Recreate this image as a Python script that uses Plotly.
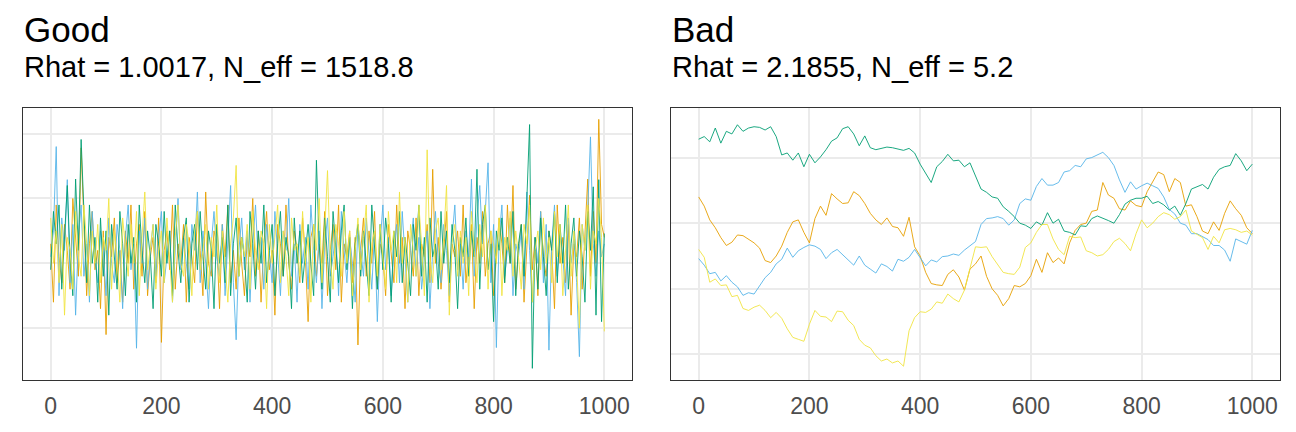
import plotly.graph_objects as go

# chain colours (Okabe-Ito)
chain_colors = ["#E69F00", "#56B4E9", "#009E73", "#F0E442"]

# ---- "Good" panel: draws read every 5 iterations ----
good_iter = list(range(0, 1001, 5))

good_chain1 = [
    0.3, -0.6, 0.9, 0.1, -0.3, 0.6, 0.2, -0.4, 1.0, 0.4,
    -0.2, 1.78, 0.5, -0.5, 0.3, 0.8, -0.1, 0.2, -0.7, 0.5,
    -1.10, 0.4, 0.1, 0.7, -0.3, 0.2, -0.6, 0.5, 0.0, 0.9,
    -0.4, 0.3, 0.6, -0.2, 0.8, -0.5, 0.1, 0.4, -0.3, 0.7,
    -1.22, 0.2, 0.5, -0.1, 0.9, -0.4, 0.3, 0.0, 0.6, -0.6,
    0.4, 0.1, -0.3, 0.8, 0.2, -0.5, 1.1, 0.0, -0.2, 0.5,
    0.3, -0.7, 0.6, 0.1, 0.9, -0.3, 0.2, -0.4, 0.7, 0.0,
    -0.5, 0.4, 0.1, 1.0, -0.2, 0.5, -0.6, 0.3, 0.8, -0.1,
    0.2, -0.8, 0.6, 0.3, -0.2, 0.9, 0.0, -0.4, 0.5, 0.2,
    -0.3, 0.7, 0.1, -0.9, 0.4, 0.6, -0.2, 0.3, 0.0, 0.8,
    -0.5, 0.2, 0.6, -0.1, 0.9, -0.6, 0.3, 0.1, 0.5, -0.3,
    0.4, -1.26, 0.2, 0.7, -0.2, 0.5, 0.0, 0.8, -0.4, 0.3,
    0.1, -0.5, 0.6, 0.2, -0.3, 0.9, 0.0, 0.4, -0.7, 0.5,
    0.2, -0.2, 0.7, -0.5, 0.3, 0.1, 0.6, -0.3, 1.45, 0.0,
    0.4, -0.4, 0.2, 0.8, -0.6, 0.3, 0.1, 0.5, -0.2, 0.9,
    -0.3, 0.2, 0.6, -0.7, 0.4, 0.0, 0.8, -0.2, 0.3, 0.5,
    -0.5, 0.1, 0.7, 0.3, -0.3, 0.9, 0.0, 1.2, -0.4, 0.2,
    0.6, -0.6, 0.3, 1.05, -0.1, 0.4, -0.5, 0.8, 0.1, -0.2,
    0.5, 0.2, -0.7, 0.9, 0.0, 0.4, -0.3, 0.6, -0.8, 0.3,
    0.1, 0.7, -0.4, 0.5, 1.3, -0.2, 0.8, 0.0, 2.22, 0.6,
    0.4,
]
good_chain2 = [
    0.1, 0.5, 1.80, -0.5, 0.7, 0.2, 1.29, -0.3, 0.6, -0.8,
    0.4, 0.9, -0.2, 0.3, -0.6, 0.8, 0.1, -0.3, 0.5, 0.2,
    -0.5, 0.7, 0.0, -0.3, 0.6, 0.2, -0.7, 0.4, 0.9, -0.1,
    0.3, -1.31, 0.5, 0.0, 0.7, -0.4, 0.2, 0.6, -0.2, 0.4,
    0.8, -0.3, 0.1, 0.5, -0.6, 0.3, 1.0, -0.1, 0.4, 0.0,
    -0.4, 0.6, 0.2, 1.1, -0.3, 0.5, 0.0, -0.7, 0.3, 0.8,
    0.1, -0.2, 0.6, -0.5, 0.4, 1.2, -0.3, -1.18, 0.2, 0.7,
    -0.1, 0.5, -0.6, 0.3, 0.9, 0.0, 0.4, -0.4, 0.6, 0.2,
    -0.3, 0.8, 0.1, -0.5, 0.5, 0.2, 1.0, -0.2, 0.3, -0.6,
    0.6, 0.0, 0.4, -0.4, 0.9, 0.2, -0.3, 0.5, -0.7, 0.3,
    0.7, -0.2, 0.1, 0.5, -0.5, 0.8, 0.2, -0.3, 0.4, 0.0,
    -0.6, 0.6, 0.2, -0.2, 0.7, 0.1, -0.4, 0.5, -0.9, 0.3,
    0.9, -0.1, 0.4, -0.5, 0.2, 0.6, -0.3, 0.8, 0.0, -0.6,
    0.3, 0.7, -0.2, 0.4, -0.4, 0.1, 0.5, -0.7, 0.2, 0.8,
    0.0, -0.3, 0.6, 0.2, -0.5, 0.4, 0.9, -0.1, 0.3, -0.4,
    0.5, 0.1, 1.3, -0.2, 0.7, 1.2, 0.3, 0.8, 1.55, -0.3,
    0.6, -1.30, 0.4, 0.9, -0.2, 0.2, 0.7, -0.5, 0.3, 0.1,
    0.5, -0.4, 1.1, 0.2, -0.6, 0.4, 0.0, 0.8, -0.3, 0.6,
    -1.34, 0.3, 0.9, -0.2, 0.5, 0.1, -0.5, 0.7, 0.0, 0.4,
    -0.3, -1.44, 0.6, 0.2, 0.8, 1.95, 0.3, -0.2, 0.5, 0.1,
    0.3,
]
good_chain3 = [
    -0.1, 0.8, 0.3, 0.9, -0.4, 0.5, 1.2, 0.1, -0.5, 1.3,
    0.2, 1.91, 0.7, -0.3, 0.9, 0.0, 0.4, -0.6, 0.7, -0.2,
    0.5, -0.8, 0.6, 0.1, -0.4, 0.8, 0.3, -0.5, 0.6, 0.0,
    0.4, -0.6, 0.9, 0.2, -0.3, 0.5, 0.1, -0.7, 0.6, 0.3,
    -0.2, 0.8, 0.0, 0.5, -0.5, 0.9, 0.2, -0.3, 0.4, 0.7,
    -0.6, 0.3, 0.6, -0.1, 0.8, 0.1, -0.4, 0.5, 0.2, -0.7,
    0.6, 0.0, 0.4, -0.3, 0.9, -0.5, 0.3, 0.7, -0.2, 0.4,
    0.1, -0.6, 0.8, 0.3, -0.4, 0.5, 0.0, 0.9, -0.3, 0.2,
    0.6, -0.5, 0.3, 0.8, -0.2, 0.4, 0.1, -0.7, 0.7, 0.0,
    0.5, -0.3, 0.2, 0.6, 0.0, -0.5, 1.59, 0.3, -0.4, 0.7,
    0.1, -0.6, 0.8, 0.2, -0.3, 0.5, 0.9, -0.1, 0.4, -0.7,
    0.3, 0.6, -0.2, 0.5, 0.0, -0.5, 0.9, 0.2, -0.4, 0.6,
    -0.1, 0.7, 0.3, -0.6, 0.5, 0.1, 0.8, -0.3, 0.4, 0.0,
    -0.5, 0.6, 0.2, 0.9, -0.2, 0.4, -0.6, 0.7, 0.1, 0.3,
    -0.4, 0.8, 0.0, 0.5, -0.3, 0.6, 0.2, -0.7, 0.4, 0.1,
    0.7, -0.2, 0.5, 0.1, 1.45, -0.4, 0.6, 0.9, -0.1, 0.3,
    -0.9, 0.5, 0.2, 0.7, -0.3, 0.4, 0.0, 0.8, -0.5, 0.3,
    0.6, -0.2, 1.0, 2.14, -1.62, 0.4, -0.4, 0.7, 0.1, -0.5,
    0.5, 0.2, 0.8, -0.3, 0.6, 0.0, 0.9, -0.4, 0.3, 0.7,
    -0.2, 0.5, 0.1, -0.6, 0.8, 0.2, 1.18, -0.8, 1.29, -0.9,
    0.46,
]
good_chain4 = [
    0.7, 0.0, 0.5, -0.3, 0.6, -0.8, 0.4, 0.2, -0.4, 0.8,
    0.1, -0.2, 0.9, 0.3, -0.5, 0.5, 0.0, 0.6, -0.3, 0.4,
    0.2, 1.0, -0.4, 0.5, 0.1, -0.6, 0.7, 0.3, -0.2, 0.6,
    0.0, 0.8, -0.5, 0.4, 1.1, -0.1, 0.3, 0.6, -0.4, 0.2,
    0.5, -0.3, 0.7, 0.1, -0.6, 0.4, 0.9, 0.0, -0.2, 0.6,
    0.3, -0.5, 0.5, 0.8, -0.1, 0.2, 0.6, -0.4, 0.4, 0.1,
    0.9, -0.3, 0.5, 0.0, -0.6, 0.3, 0.7, 1.51, -0.2, 0.4,
    0.1, 0.6, -0.4, 0.8, 0.2, -0.1, 0.5, 0.3, -0.7, 0.6,
    0.0, 0.4, 0.9, -0.3, 0.5, 0.1, -0.5, 0.7, 0.2, 0.3,
    -0.2, 0.8, 0.0, 0.4, -0.6, 0.6, 0.2, 1.0, -0.3, 0.5,
    1.43, 0.1, -0.4, 0.6, 0.3, -0.2, 0.8, 0.0, 0.5, -0.5,
    0.2, 0.7, -0.1, 0.4, 0.9, -0.6, 0.3, 0.5, -0.2, 0.6,
    0.1, -0.4, 0.8, 0.2, 0.5, -0.3, 1.1, 0.0, 0.4, -0.6,
    0.6, 0.2, -0.2, 0.9, 0.3, -0.5, 1.75, 0.1, -0.3, 0.5,
    0.7, -0.1, 0.4, 1.2, -0.8, 0.3, 0.6, -0.2, 0.5, 0.0,
    0.4, -0.5, 0.8, 0.2, -0.3, 0.6, 0.1, 0.9, -0.4, 0.5,
    0.3, 0.0, 0.7, -0.5, 0.4, 0.2, 0.8, -0.2, 0.5, 0.1,
    -0.4, 0.6, 0.3, 0.9, -0.6, 0.2, 0.5, -0.1, 0.7, 0.0,
    0.4, -0.3, 0.8, 0.1, 0.6, -0.5, 0.3, 0.9, -0.2, 0.5,
    0.0, -1.0, 0.6, 0.2, 0.9, -0.4, 0.5, 0.3, 1.0, 0.4,
    -1.05,
]

# ---- "Bad" panel: draws read every 10 iterations ----
bad_iter = list(range(0, 1001, 10))

bad_chain1 = [
    1.40, 1.26, 1.05, 0.93, 0.78, 0.66, 0.71, 0.82, 0.81, 0.76,
    0.70, 0.62, 0.43, 0.40, 0.50, 0.65, 0.86, 1.02, 1.05, 0.86,
    0.70, 1.07, 1.26, 1.12, 1.45, 1.37, 1.30, 1.31, 1.48, 1.42,
    1.30, 1.15, 1.05, 0.98, 1.08, 0.95, 0.93, 0.80, 1.09, 0.64,
    0.50, 0.25, 0.08, 0.06, 0.05, 0.22, 0.29, 0.18, -0.02, 0.30,
    0.38, 0.50, 0.19, 0.00, -0.10, -0.26, -0.15, 0.05, 0.03, 0.08,
    0.20, 0.45, 0.25, 0.55, 0.40, 0.47, 0.38, 0.70, 0.89, 0.98,
    1.00, 1.18, 1.20, 1.62, 1.43, 1.38, 1.22, 1.20, 1.34, 1.27,
    1.25, 1.48, 1.62, 1.78, 1.74, 1.48, 1.68, 1.62, 1.26, 1.28,
    1.10, 0.88, 0.84, 1.02, 0.89, 1.15, 1.34, 1.22, 1.12, 0.93,
    0.84,
]
bad_chain2 = [
    0.46, 0.36, 0.23, 0.25, 0.12, 0.20, 0.10, 0.03, -0.10, -0.06,
    -0.08, 0.05, 0.17, 0.25, 0.38, 0.45, 0.62, 0.48, 0.58, 0.63,
    0.67, 0.65, 0.60, 0.46, 0.55, 0.60, 0.52, 0.44, 0.36, 0.50,
    0.36, 0.30, 0.24, 0.38, 0.34, 0.27, 0.45, 0.42, 0.48, 0.60,
    0.48, 0.35, 0.44, 0.41, 0.49, 0.50, 0.53, 0.51, 0.59, 0.65,
    0.72, 0.98, 1.07, 1.08, 1.10, 1.07, 0.97, 1.05, 1.30, 1.37,
    1.35, 1.56, 1.68, 1.58, 1.58, 1.62, 1.78, 1.80, 1.88, 1.86,
    1.98, 2.00, 2.04, 2.08, 2.00, 1.88, 1.66, 1.47, 1.63, 1.52,
    1.57, 1.61, 1.57, 1.53, 1.40, 1.21, 1.14, 1.00, 0.97, 0.84,
    0.84, 0.80, 0.75, 0.66, 0.66, 0.59, 0.42, 0.76, 0.72, 0.68,
    0.89,
]
bad_chain3 = [
    2.28, 2.32, 2.24, 2.45, 2.22, 2.40, 2.36, 2.50, 2.40, 2.45,
    2.47, 2.46, 2.42, 2.47, 2.32, 2.04, 2.07, 1.96, 2.07, 1.86,
    2.05, 1.92, 2.01, 2.12, 2.25, 2.30, 2.44, 2.47, 2.36, 2.18,
    2.33, 2.15, 2.12, 2.14, 2.16, 2.15, 2.13, 2.11, 2.14, 2.07,
    1.90, 1.75, 1.62, 1.86, 1.94, 2.05, 1.95, 1.96, 1.86, 1.92,
    1.73, 1.52, 1.47, 1.40, 1.38, 1.25, 1.18, 1.10, 1.00, 0.97,
    0.92, 1.02, 0.97, 1.16, 1.00, 1.06, 0.88, 0.86, 0.82, 0.96,
    0.95, 1.07, 1.11, 1.08, 1.04, 1.00, 1.13, 1.29, 1.35, 1.38,
    1.38, 1.41, 1.30, 1.33, 1.28, 1.20, 1.26, 1.12, 1.30, 1.52,
    1.56, 1.59, 1.52, 1.70, 1.82, 1.86, 1.88, 2.06, 1.95, 1.80,
    1.90,
]
bad_chain4 = [
    0.60, 0.48, 0.10, 0.15, 0.05, 0.06, -0.12, -0.10, -0.30, -0.33,
    -0.28, -0.25, -0.33, -0.44, -0.36, -0.45, -0.61, -0.74, -0.77, -0.80,
    -0.54, -0.33, -0.42, -0.43, -0.50, -0.34, -0.35, -0.48, -0.56, -0.77,
    -0.86, -0.90, -1.02, -1.10, -1.07, -1.13, -1.10, -1.18, -0.64, -0.44,
    -0.35, -0.36, -0.31, -0.20, -0.22, -0.08, -0.15, -0.20, -0.02, 0.32,
    0.64, 0.63, 0.64, 0.49, 0.36, 0.25, 0.23, 0.22, 0.33, 0.63,
    0.70, 0.86, 0.98, 0.98, 0.76, 0.60, 0.52, 0.80, 0.78, 0.79,
    0.58, 0.55, 0.50, 0.52, 0.60, 0.72, 0.77, 0.69, 0.58, 0.84,
    1.05, 0.93, 1.00, 1.10, 1.16, 1.13, 1.06, 1.10, 1.20, 0.88,
    0.83, 0.78, 0.60, 0.80, 0.70, 0.90, 0.92, 0.90, 0.86, 0.88,
    0.82,
]

good_chains = [good_chain1, good_chain2, good_chain3, good_chain4]
bad_chains = [bad_chain1, bad_chain2, bad_chain3, bad_chain4]

x_ticks = [0, 200, 400, 600, 800, 1000]

# the page body adds an 8px margin, so the figure is laid out on 1288x424
W, H, OFF = 1288, 424, 8


def fx(page_x):
    return (page_x - OFF) / W


def fy(page_y):
    return 1 - (page_y - OFF) / H


fig = go.Figure()

for vals, col in zip(good_chains, chain_colors):
    fig.add_trace(go.Scatter(
        x=good_iter, y=vals, mode="lines", xaxis="x", yaxis="y",
        line=dict(color=col, width=0.9), showlegend=False,
    ))
for vals, col in zip(bad_chains, chain_colors):
    fig.add_trace(go.Scatter(
        x=bad_iter, y=vals, mode="lines", xaxis="x2", yaxis="y2",
        line=dict(color=col, width=0.9), showlegend=False,
    ))

axis_style = dict(
    showline=True, mirror=True, linecolor="#333333", linewidth=1,
    showgrid=True, gridcolor="#EBEBEB", gridwidth=1.6,
    zeroline=False,
)
x_style = dict(
    range=[-50, 1050], tickvals=x_ticks,
    ticks="outside", ticklen=5, tickcolor="rgba(0,0,0,0)",
    tickfont=dict(size=23, color="#4D4D4D"), **axis_style,
)
y_dom = [fy(380), fy(107.7)]

fig.update_layout(
    width=W, height=H,
    margin=dict(l=0, r=0, t=0, b=0),
    paper_bgcolor="white", plot_bgcolor="white",
    font=dict(family="Liberation Sans, Arial, sans-serif", color="#4D4D4D"),
    xaxis=dict(domain=[fx(23), fx(632)], anchor="y", **x_style),
    yaxis=dict(domain=y_dom, range=[-1.8, 2.4], tickvals=[-1, 0, 1, 2],
               showticklabels=False, ticks="", anchor="x", **axis_style),
    xaxis2=dict(domain=[fx(671), fx(1280)], anchor="y2", **x_style),
    yaxis2=dict(domain=y_dom, range=[-1.39, 2.76], tickvals=[-1, 0, 1, 2],
                showticklabels=False, ticks="", anchor="x2", **axis_style),
)

titles = [
    (22, "Good", "Rhat = 1.0017, N_eff = 1518.8"),
    (670, "Bad", "Rhat = 2.1855, N_eff = 5.2"),
]
for px_left, title, subtitle in titles:
    fig.add_annotation(
        x=fx(px_left), y=fy(29), xref="paper", yref="paper",
        text=title, showarrow=False, xanchor="left", yanchor="middle",
        font=dict(size=35, color="black"),
    )
    fig.add_annotation(
        x=fx(px_left), y=fy(67), xref="paper", yref="paper",
        text=subtitle, showarrow=False, xanchor="left", yanchor="middle",
        font=dict(size=29, color="black"),
    )

fig.write_html("out.html")
